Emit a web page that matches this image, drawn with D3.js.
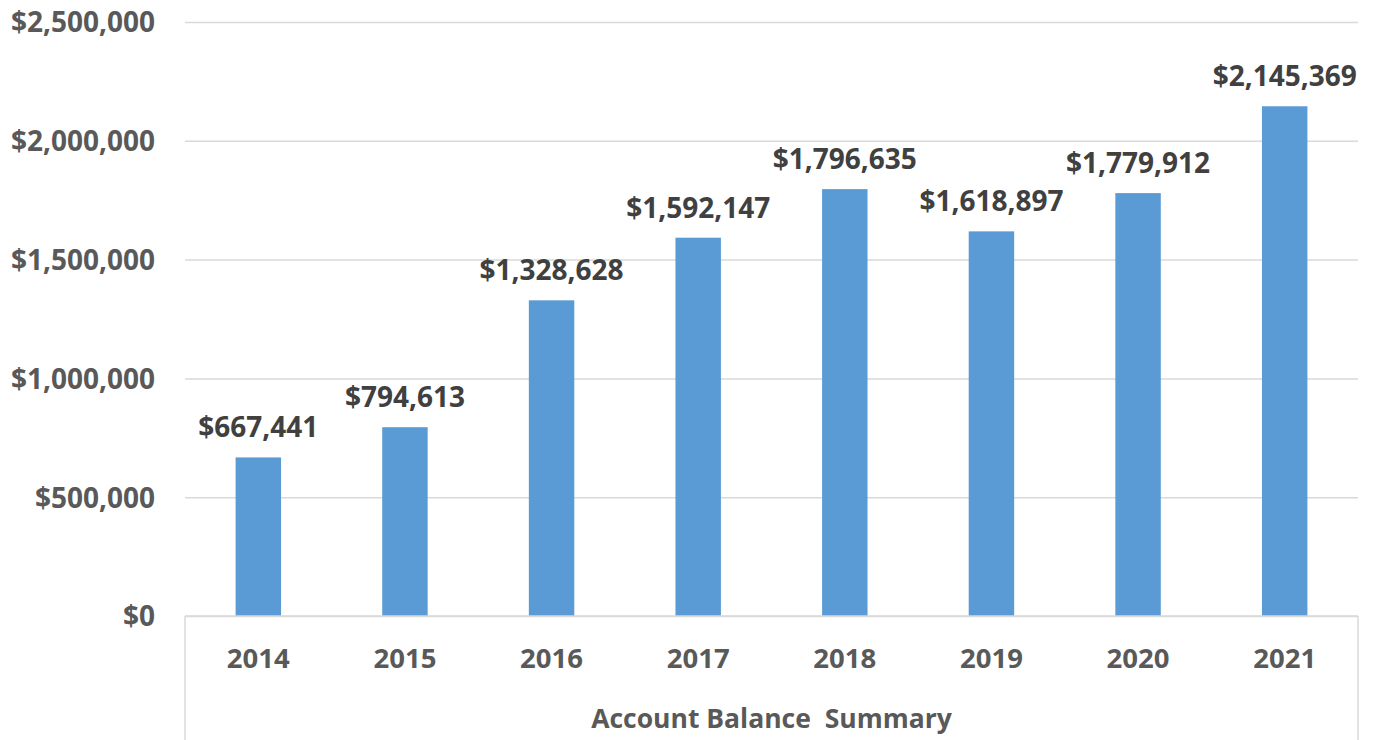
<!DOCTYPE html>
<html>
<head>
<meta charset="utf-8">
<script src="https://cdn.jsdelivr.net/npm/d3@7"></script>
<style>
  body { margin: 0; background: #fff; }
  text { font-family: "Open Sans", sans-serif; font-weight: bold; }
</style>
</head>
<body>
<div class="chart"></div>
<script>
// chart data
var years = ["2014", "2015", "2016", "2017", "2018", "2019", "2020", "2021"];
var balances = [667441, 794613, 1328628, 1592147, 1796635, 1618897, 1779912, 2145369];
var yTicks = [0, 500000, 1000000, 1500000, 2000000, 2500000];
var axisTitle = "Account Balance  Summary";

var svgWidth = 1376, svgHeight = 740;
var margin = { top: 22, right: 18, bottom: 124, left: 185 };
var width = svgWidth - margin.left - margin.right;
var height = svgHeight - margin.top - margin.bottom;

var svg = d3.select(".chart")
  .append("svg")
  .attr("width", svgWidth)
  .attr("height", svgHeight);

var chartGroup = svg.append("g")
  .attr("transform", `translate(${margin.left}, ${margin.top})`);

var xScale = d3.scaleBand()
  .domain(years)
  .range([0, width])
  .paddingInner(0.69)
  .paddingOuter(0.345);

var yScale = d3.scaleLinear()
  .domain([0, 2500000])
  .range([height, 0]);

var money = d3.format("$,.0f");

// gridlines + y labels
var leftAxis = d3.axisLeft(yScale)
  .tickValues(yTicks)
  .tickSize(-width)
  .tickPadding(30)
  .tickFormat(money);

var yAxisG = chartGroup.append("g").call(leftAxis);
yAxisG.select(".domain").remove();
yAxisG.selectAll(".tick line")
  .attr("stroke", "#d9d9d9")
  .attr("stroke-width", 1.5);
yAxisG.selectAll(".tick text")
  .attr("fill", "#595959")
  .style("font-size", "28px")
  .attr("dy", "0.35em");

// bars
chartGroup.selectAll(".bar")
  .data(balances)
  .enter()
  .append("rect")
  .attr("class", "bar")
  .attr("x", (d, i) => xScale(years[i]))
  .attr("y", d => yScale(d))
  .attr("width", xScale.bandwidth())
  .attr("height", d => height - yScale(d))
  .attr("fill", "#5b9bd5");

// data labels
chartGroup.selectAll(".lbl")
  .data(balances)
  .enter()
  .append("text")
  .attr("class", "lbl")
  .attr("x", (d, i) => xScale(years[i]) + xScale.bandwidth() / 2)
  .attr("y", d => yScale(d) - 20)
  .attr("text-anchor", "middle")
  .attr("fill", "#404040")
  .style("font-size", "28px")
  .text(d => money(d));

// x axis line and box sides
chartGroup.append("line")
  .attr("x1", 0).attr("x2", width)
  .attr("y1", height).attr("y2", height)
  .attr("stroke", "#d9d9d9").attr("stroke-width", 1.5);
[0, width].forEach(function(x) {
  chartGroup.append("line")
    .attr("x1", x).attr("x2", x)
    .attr("y1", height).attr("y2", svgHeight)
    .attr("stroke", "#d9d9d9").attr("stroke-width", 1.5);
});

// category labels
chartGroup.selectAll(".cat")
  .data(years)
  .enter()
  .append("text")
  .attr("class", "cat")
  .attr("x", d => xScale(d) + xScale.bandwidth() / 2)
  .attr("y", height + 52)
  .attr("text-anchor", "middle")
  .attr("fill", "#595959")
  .style("font-size", "27.5px")
  .text(d => d);

// axis title
chartGroup.append("text")
  .attr("x", width / 2)
  .attr("y", height + 112)
  .attr("text-anchor", "middle")
  .attr("fill", "#595959")
  .style("font-size", "26.5px")
  .attr("xml:space", "preserve")
  .style("white-space", "pre")
  .text(axisTitle);
</script>
</body>
</html>
